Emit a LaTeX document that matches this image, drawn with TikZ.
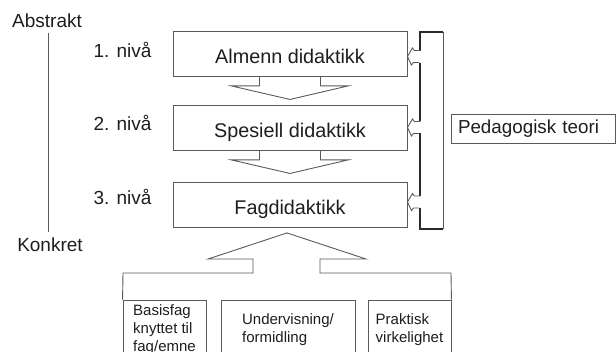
\documentclass[tikz,border=0pt]{standalone}
\usepackage{fontspec}
\setmainfont{Liberation Sans}
\usetikzlibrary{calc}
\definecolor{edge}{HTML}{5A5A5A}
\definecolor{ink}{HTML}{1E1E1E}
\definecolor{rail}{HTML}{2A2A2A}
\tikzset{
  level/.style={draw=edge, line width=0.9pt, minimum width=234pt, minimum height=45pt,
    inner sep=0pt, text=ink, text height=20pt, text depth=0pt,
    font=\fontsize{19.8}{22}\selectfont},
  lbl/.style={text=ink, inner sep=0pt, font=\fontsize{19}{22}\selectfont},
  source/.style={draw=edge, line width=0.9pt, minimum height=60pt, inner sep=0pt,
    align=left, text=ink, font=\fontsize{15}{18}\selectfont},
  flow/.style={draw=edge, line width=0.9pt, line join=miter},
  railline/.style={draw=rail, line width=1.5pt, line join=miter},
  notch/.style={draw=edge, line width=0.9pt, line join=miter},
}
\begin{document}
\begin{tikzpicture}[x=1pt,y=-1pt]
  \clip (0,0) rectangle (616,352);
  \fill[white] (0,0) rectangle (616,352);

  % scale from abstract to concrete
  \node[lbl] (abstrakt) at (47,21) {Abstrakt};
  \node[lbl] (konkret) at (50,245) {Konkret};
  \coordinate (axtop) at (48,33);
  \coordinate (axbot) at (48,232);
  \draw[edge, line width=0.9pt] (axtop) -- (axbot);

  % level labels
  \node[lbl] (n1) at (122.5,50) {1. nivå};
  \node[lbl] (n2) at (122.5,123) {2. nivå};
  \node[lbl] (n3) at (122.5,197) {3. nivå};

  % the three levels of didactics
  \node[level] (almenn) at (290,53.5) {Almenn didaktikk};
  \node[level] (spes) at (290,127.5) {Spesiell didaktikk};
  \node[level] (fag) at (290,205) {Fagdidaktikk};

  % block arrows pointing downwards
  \foreach \b in {almenn,spes}{
    \draw[flow] ($(\b.south)+(-30.5,0)$) -- ++(0,9.5) -- ++(-28,0)
      -- ($(\b.south)+(0,23)$) -- ($(\b.south)+(58,9.5)$) -- ++(-27.5,0) -- ++(0,-9.5);
  }

  % three sources, held together by the upward block arrow
  \node[source, minimum width=83pt] (basis) at (164.5,330) {Basisfag\\knyttet til\\fag/emne};
  \node[source, minimum width=134pt] (underv) at (288,330) {Undervisning/\\formidling};
  \node[source, minimum width=83pt] (praksis) at (409.5,330) {Praktisk\\virkelighet};

  \draw[flow] (basis.north west) -- (123,273) -- (253,273) -- (253,259) -- (208,259)
    -- ($(fag.south)+(-3,5)$) -- (366,259) -- (320,259) -- (320,273) -- (451,273)
    -- (praksis.north east);

  % pedagogical theory feeding all levels
  \node[draw=edge, line width=0.9pt, minimum width=164pt, minimum height=29pt,
    inner sep=0pt, text width=150pt, align=left, text=ink,
    font=\fontsize{18.8}{22}\selectfont] (teori) at (533,128.5) {Pedagogisk teori};

  \coordinate (rtop) at (443,32);
  \coordinate (rbot) at (443,229);
  \draw[edge, line width=0.9pt] (rtop) -- (rbot);
  \draw[railline] (rtop) -- (420,32) -- (420,51);
  \draw[railline] (420,63) -- (420,121);
  \draw[railline] (420,133) -- (420,196);
  \draw[railline] (420,208) -- (420,229) -- (rbot);
  \foreach \b/\dy in {almenn/3, spes/0, fag/-3}{
    \draw[notch] ($(\b.east)+(13,\dy-6)$) -- ++(-6,0) -- ++(-2,-2.5) -- ($(\b.east)+(0,\dy)$)
      -- ($(\b.east)+(4,\dy+8.5)$) -- ++(2,-2.5) -- ++(6,0);
  }
\end{tikzpicture}
\end{document}
